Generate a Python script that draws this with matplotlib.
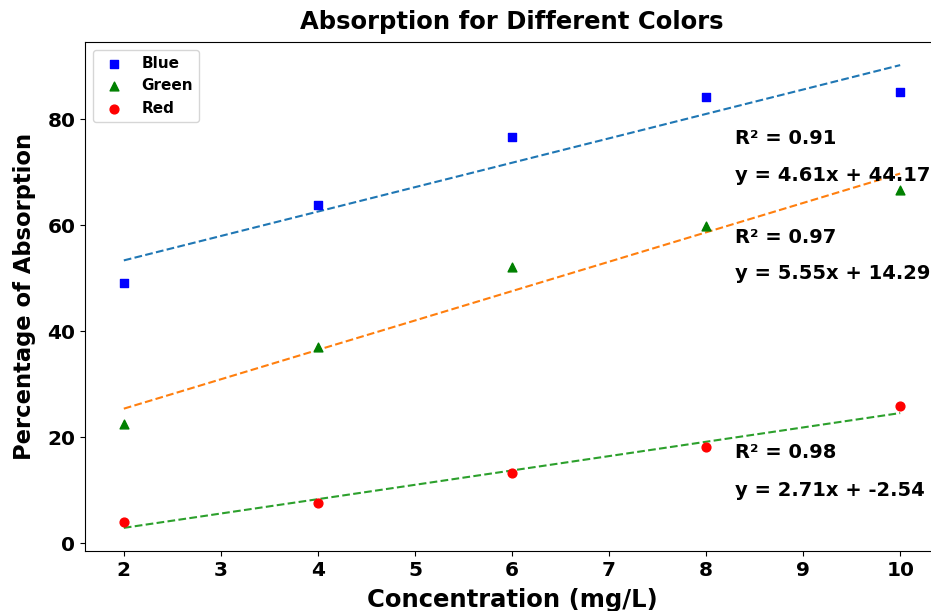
import numpy as np
import matplotlib
matplotlib.use("Agg")
import matplotlib.pyplot as plt

concentration = [2, 4, 6, 8, 10]
blue = [49.2, 63.9, 76.65, 84.3, 85.1]
green = [22.5, 37.0, 52.05, 59.8, 66.6]
red = [4.0, 7.5, 13.2, 18.1, 25.8]

series_names = ["Blue", "Green", "Red"]
series_values = [blue, green, red]
marker_colors = ["blue", "green", "red"]
markers = ["s", "^", "o"]
fit_colors = ["C0", "C1", "C2"]
label_pos = [(8.3, 76.4, 69.4), (8.3, 57.7, 50.9), (8.3, 17.2, 10.0)]

plt.rcParams['font.weight'] = 'bold'
fig = plt.figure(figsize=(9.31, 6.11), dpi=100)
ax = fig.add_axes([0.0913, 0.0982, 0.9173, 0.8331])

x = np.array(concentration, dtype=float)
for name, vals, c, m in zip(series_names, series_values, marker_colors, markers):
    ax.scatter(x, vals, color=c, marker=m, label=name, s=40, zorder=3)

for vals, fc, (tx, ty1, ty2) in zip(series_values, fit_colors, label_pos):
    y = np.array(vals)
    slope, intercept = np.polyfit(x, y, 1)
    pred = slope * x + intercept
    r2 = 1 - np.sum((y - pred) ** 2) / np.sum((y - y.mean()) ** 2)
    ax.plot(x, pred, linestyle='--', color=fc, linewidth=1.5)
    ax.text(tx, ty1, f"R² = {r2:.2f}", fontsize=14, fontweight='bold', va='center', clip_on=False)
    ax.text(tx, ty2, f"y = {slope:.2f}x + {intercept:.2f}", fontsize=14, fontweight='bold', va='center', clip_on=False)

ax.set_title("Absorption for Different Colors", fontsize=17.5, fontweight='bold', pad=9)
ax.set_xlabel("Concentration (mg/L)", fontsize=17.5, fontweight='bold', labelpad=6)
ax.set_ylabel("Percentage of Absorption", fontsize=16.3, fontweight='bold', labelpad=8)
ax.tick_params(labelsize=14.5)
for lab in ax.get_xticklabels() + ax.get_yticklabels():
    lab.set_fontweight('bold')
leg = ax.legend(loc='upper left', prop={'weight': 'bold', 'size': 11})

fig.savefig("out.png", dpi=100)
